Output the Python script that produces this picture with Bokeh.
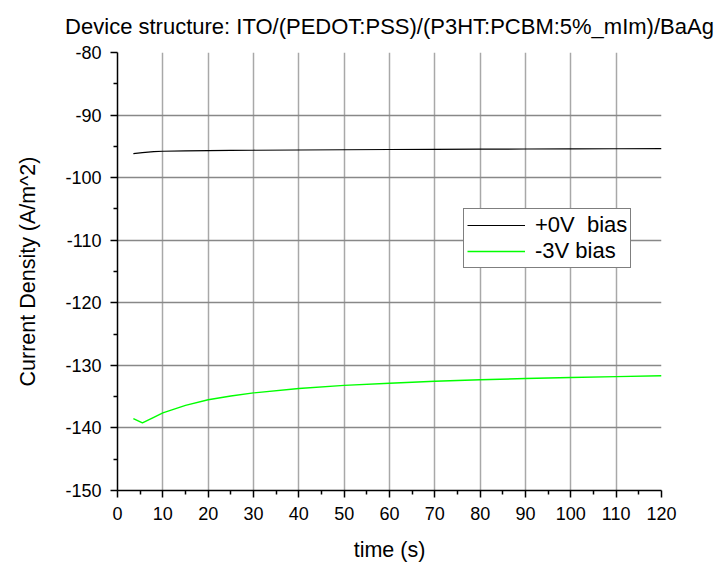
from bokeh.plotting import figure
from bokeh.models import FixedTicker, Legend, LegendItem, Range1d
from bokeh.embed import file_html
from bokeh.resources import INLINE

time_0v = [3.5, 5.5, 8, 10, 15, 20, 25, 30, 40, 50, 60, 70, 80, 90, 100, 110, 120]
j_0v = [-96.15, -96.0, -95.85, -95.78, -95.72, -95.68, -95.65, -95.62, -95.58, -95.54,
        -95.5, -95.47, -95.45, -95.42, -95.4, -95.38, -95.36]
time_3v = [3.5, 5.5, 8, 10, 15, 20, 25, 30, 40, 50, 60, 70, 80, 90, 100, 110, 120]
j_3v = [-138.5, -139.2, -138.3, -137.6, -136.4, -135.5, -134.9, -134.4, -133.7, -133.2,
        -132.85, -132.55, -132.3, -132.1, -131.95, -131.8, -131.65]

x_ticks = list(range(0, 121, 10))
y_ticks = list(range(-150, -79, 10))
labels = ["+0V  bias", "-3V bias"]
title_text = "Device structure: ITO/(PEDOT:PSS)/(P3HT:PCBM:5%_mIm)/BaAg"

FONT = "Liberation Sans"

p = figure(width=714, height=567, output_backend="svg", toolbar_location=None,
           x_range=Range1d(0, 120), y_range=Range1d(-150, -80),
           min_border_left=117, min_border_right=53, min_border_top=52, min_border_bottom=77)
p.outline_line_color = None
p.background_fill_color = "white"
p.border_fill_color = "white"

p.title.text = title_text
p.title.align = "center"
p.title.vertical_align = "top"
p.title.text_font = FONT
p.title.text_font_size = "22px"
p.title.text_font_style = "normal"
p.title.text_color = "black"
p.title.standoff = 24

for ax in (p.xaxis[0], p.yaxis[0]):
    ax.axis_line_color = "black"
    ax.axis_line_width = 1.5
    ax.major_tick_line_color = "black"
    ax.major_tick_line_width = 1.5
    ax.minor_tick_line_color = "black"
    ax.minor_tick_line_width = 1.5
    ax.major_tick_in = 0
    ax.major_tick_out = 7
    ax.minor_tick_in = 0
    ax.minor_tick_out = 4
    ax.major_label_text_font = FONT
    ax.major_label_text_font_size = "18px"
    ax.major_label_text_color = "black"
    ax.axis_label_text_font = FONT
    ax.axis_label_text_font_size = "21.5px"
    ax.axis_label_text_font_style = "normal"
    ax.axis_label_text_color = "black"

p.xaxis.ticker = FixedTicker(ticks=x_ticks, minor_ticks=[t + 5 for t in x_ticks[:-1]])
p.yaxis.ticker = FixedTicker(ticks=y_ticks, minor_ticks=[t + 5 for t in y_ticks[:-1]])
p.xaxis.major_label_overrides = {t: str(t) for t in x_ticks}
p.yaxis.major_label_overrides = {t: str(t) for t in y_ticks}
p.xaxis.axis_label = "time (s)"
p.yaxis.axis_label = "Current Density (A/m^2)"
p.xaxis.major_label_standoff = 9
p.yaxis.major_label_standoff = 9
p.xaxis.axis_label_standoff = 15
p.yaxis.axis_label_standoff = 22

p.xgrid.ticker = FixedTicker(ticks=x_ticks[1:-1])
p.ygrid.ticker = FixedTicker(ticks=y_ticks[1:-1])
p.xgrid.grid_line_color = "#a8a8a8"
p.ygrid.grid_line_color = "#888888"
p.xgrid.grid_line_width = 1.5
p.ygrid.grid_line_width = 1.5

r0 = p.line(time_0v, j_0v, line_color="black", line_width=1.2)
r3 = p.line(time_3v, j_3v, line_color="#00ff00", line_width=1.4)

legend = Legend(items=[LegendItem(label=labels[0], renderers=[r0]),
                       LegendItem(label=labels[1], renderers=[r3])],
                location=(346, 222))
legend.border_line_color = "black"
legend.border_line_width = 1.2
legend.background_fill_color = "white"
legend.background_fill_alpha = 1
legend.label_text_font = FONT
legend.label_text_font_size = "22px"
legend.label_text_color = "black"
legend.glyph_width = 58
legend.glyph_height = 20
legend.label_height = 20
legend.label_standoff = 10
legend.spacing = 0
legend.padding = 3
legend.margin = 0
p.add_layout(legend, "center")

open("out.html", "w").write(file_html(p, INLINE))
